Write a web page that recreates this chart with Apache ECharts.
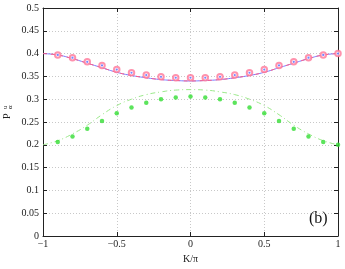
<!DOCTYPE html>
<html>
<head>
<meta charset="utf-8">
<script src="https://cdn.jsdelivr.net/npm/echarts@6/dist/echarts.min.js"></script>
<style>
  html, body { margin: 0; padding: 0; background: #fff; }
  #chart { width: 345px; height: 269px; }
</style>
</head>
<body>
<div id="chart"></div>
<script>
// curves, sampled every 0.1 in K/pi
const lineK = [-1, -0.9, -0.8, -0.7, -0.6, -0.5, -0.4, -0.3, -0.2, -0.1, 0,
               0.1, 0.2, 0.3, 0.4, 0.5, 0.6, 0.7, 0.8, 0.9, 1];
const magentaLine = [0.400, 0.397, 0.389, 0.379, 0.369, 0.359, 0.352, 0.347, 0.343, 0.341, 0.340,
                     0.341, 0.343, 0.347, 0.352, 0.359, 0.369, 0.379, 0.389, 0.397, 0.400];
const greenLine = [0.200, 0.209, 0.224, 0.243, 0.266, 0.286, 0.300, 0.310, 0.316, 0.320, 0.321,
                   0.320, 0.316, 0.310, 0.300, 0.286, 0.266, 0.243, 0.224, 0.209, 0.200];

// symbols
const markK = [-0.9, -0.8, -0.7, -0.6, -0.5, -0.4, -0.3, -0.2, -0.1, 0,
               0.1, 0.2, 0.3, 0.4, 0.5, 0.6, 0.7, 0.8, 0.9, 1];
const magentaPts = [0.397, 0.391, 0.382, 0.374, 0.365, 0.358, 0.353, 0.349, 0.347, 0.347,
                    0.347, 0.349, 0.353, 0.358, 0.365, 0.374, 0.382, 0.391, 0.397, 0.400];
const greenPts = [0.206, 0.218, 0.235, 0.252, 0.269, 0.282, 0.292, 0.300, 0.304, 0.306,
                  0.304, 0.300, 0.292, 0.282, 0.269, 0.252, 0.235, 0.218, 0.206, 0.200];

const xTicks = { min: -1, max: 1, interval: 0.5 };
const yTicks = { min: 0, max: 0.5, interval: 0.05 };

const pairs = (xs, ys) => xs.map((x, i) => [x, ys[i]]);
const font = 'Liberation Serif';

const chart = echarts.init(document.getElementById('chart'));

const gridLine = { show: true, lineStyle: { color: '#c8c8c8', type: [1, 2], width: 1 } };
const axisLine = { show: true, onZero: false, lineStyle: { color: '#222', width: 1 } };
const tick = { show: true, inside: true, length: 4, lineStyle: { color: '#222' } };

chart.setOption({
    animation: false,
    grid: { left: 43, right: 7, top: 8, bottom: 27 },
    xAxis: [{
        type: 'value', min: xTicks.min, max: xTicks.max, interval: xTicks.interval,
        name: 'K/π', nameLocation: 'middle', nameGap: 18,
        nameTextStyle: { fontFamily: font, fontSize: 10, color: '#222' },
        axisLine: axisLine, axisTick: tick, splitLine: gridLine,
        axisLabel: {
            fontFamily: font, fontSize: 10, color: '#222', margin: 3,
            formatter: v => String(v).replace('-', '\u2212')
        }
    }, {
        type: 'value', position: 'top', min: xTicks.min, max: xTicks.max, interval: xTicks.interval,
        axisLine: axisLine, axisTick: tick, splitLine: { show: false }, axisLabel: { show: false }
    }],
    yAxis: [{
        type: 'value', min: yTicks.min, max: yTicks.max, interval: yTicks.interval,
        axisLine: axisLine, axisTick: tick, splitLine: gridLine,
        axisLabel: {
            fontFamily: font, fontSize: 10, color: '#222', margin: 4,
            formatter: v => String(+v.toFixed(2))
        }
    }, {
        type: 'value', position: 'right', min: yTicks.min, max: yTicks.max, interval: yTicks.interval,
        axisLine: axisLine, axisTick: tick, splitLine: { show: false }, axisLabel: { show: false }
    }],
    series: [
        {
            type: 'line', data: pairs(lineK, magentaLine), smooth: true, showSymbol: false,
            lineStyle: { color: '#7a7aff', width: 1 }, z: 2
        },
        {
            type: 'line', data: pairs(lineK, magentaLine), smooth: true, showSymbol: false,
            lineStyle: { color: '#ff5c86', width: 1, type: [4, 4] }, z: 3
        },
        {
            type: 'line', data: pairs(lineK, greenLine), smooth: true, showSymbol: false,
            lineStyle: { color: '#9be88a', width: 1, type: [5, 3, 1, 3] }, z: 2
        },
        {
            type: 'scatter', data: pairs(markK, magentaPts), symbol: 'emptyCircle', symbolSize: 5.5,
            itemStyle: { color: '#ff7799', borderWidth: 0.8 }, z: 4
        },
        {
            type: 'scatter', data: pairs(markK, magentaPts), symbol: 'circle', symbolSize: 2.2,
            itemStyle: { color: '#5566ff' }, z: 5
        },
        {
            type: 'scatter', data: pairs(markK, greenPts), symbol: 'circle', symbolSize: 4.5,
            itemStyle: { color: '#33dd33' }, z: 4
        }
    ],
    graphic: [
        { type: 'text', x: 309, y: 211, style: { text: '(b)', font: '16px ' + font, fill: '#111' } },
        // y label: P with superscript u and subscript alpha, turned on its side
        { type: 'text', x: 2, y: 119, rotation: Math.PI / 2,
          style: { text: 'P', font: '10px ' + font, fill: '#222' } },
        { type: 'text', x: 2, y: 109, rotation: Math.PI / 2,
          style: { text: 'u', font: '6px ' + font, fill: '#222' } },
        { type: 'text', x: 7, y: 109, rotation: Math.PI / 2,
          style: { text: 'α', font: '7px ' + font, fill: '#222' } }
    ]
});
</script>
</body>
</html>
